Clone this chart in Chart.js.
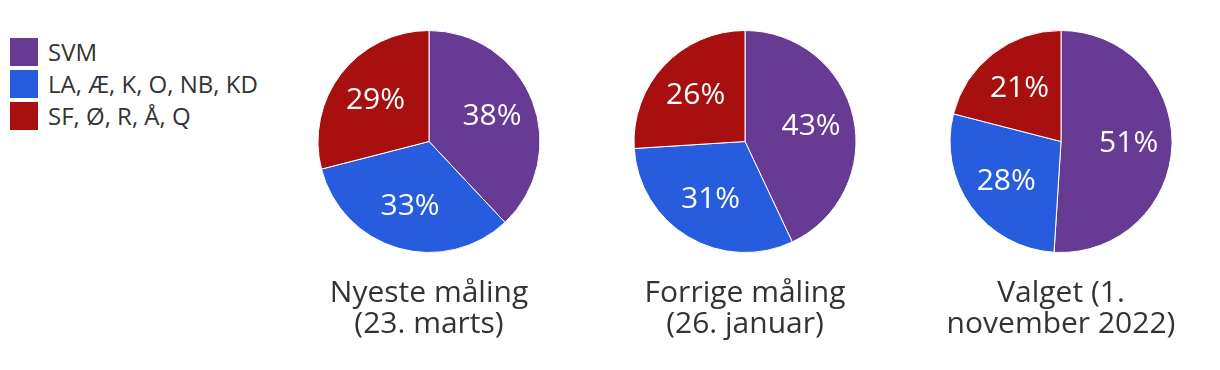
<!DOCTYPE html>
<html>
<head>
<meta charset="utf-8">
<script src="https://cdn.jsdelivr.net/npm/chart.js@4/dist/chart.umd.min.js"></script>
<style>
  body { margin: 0; background: #fff; width: 1220px; height: 370px; position: relative; overflow: hidden; font-family: "Open Sans", sans-serif; }
  .pie { position: absolute; top: 0; width: 316px; height: 370px; }
  #legend { position: absolute; left: 10px; top: 38px; }
  .item { display: flex; align-items: center; height: 28px; margin-bottom: 4px; font-size: 24px; line-height: 28px; color: #333; }
  .box { width: 28px; height: 28px; margin-right: 10px; flex: none; }
</style>
</head>
<body>
<div id="legend"></div>
<div class="pie" style="left:271px"><canvas id="pie1"></canvas></div>
<div class="pie" style="left:587px"><canvas id="pie2"></canvas></div>
<div class="pie" style="left:903px"><canvas id="pie3"></canvas></div>
<script>
// data
const groups = ["SVM", "LA, Æ, K, O, NB, KD", "SF, Ø, R, Å, Q"];
const colors = ["#673a93", "#285cde", "#a81010"];
const nyeste = [38, 33, 29];
const forrige = [43, 31, 26];
const valget = [51, 28, 21];
const titles = [
    ["Nyeste måling", "(23. marts)"],
    ["Forrige måling", "(26. januar)"],
    ["Valget (1.", "november 2022)"]
];

// legend
let legend = document.getElementById("legend");
groups.forEach((g, i) => {
    legend.innerHTML += `<div class="item"><div class="box" style="background:${colors[i]}"></div>${g}</div>`;
});

// procent inde i skiverne
const pctLabels = {
    id: "pctLabels",
    afterDatasetsDraw(chart) {
        let ctx = chart.ctx;
        let meta = chart.getDatasetMeta(0);
        let data = chart.data.datasets[0].data;
        ctx.save();
        ctx.fillStyle = "#fff";
        ctx.font = "30px 'Open Sans'";
        ctx.textAlign = "center";
        ctx.textBaseline = "middle";
        meta.data.forEach((arc, i) => {
            let p = arc.getProps(["x", "y", "startAngle", "endAngle", "outerRadius"], true);
            let mid = (p.startAngle + p.endAngle) / 2;
            let r = p.outerRadius * 0.61;
            ctx.fillText(data[i] + "%", p.x + Math.cos(mid) * r, p.y + Math.sin(mid) * r);
        });
        ctx.restore();
    }
};

function makePie(id, values, title) {
    new Chart(document.getElementById(id), {
        type: "pie",
        data: {
            labels: groups,
            datasets: [{
                data: values,
                backgroundColor: colors,
                borderColor: "#fff",
                borderWidth: 1
            }]
        },
        options: {
            responsive: false,
            animation: false,
            layout: { padding: { top: 30, bottom: 0 } },
            plugins: {
                legend: { display: false },
                tooltip: { enabled: false },
                title: {
                    display: true,
                    position: "bottom",
                    text: title,
                    color: "#333",
                    font: { family: "Open Sans", size: 30, weight: "normal", lineHeight: "31px" },
                    padding: { top: 25, bottom: 30 }
                }
            }
        },
        plugins: [pctLabels]
    });
}

document.querySelectorAll("canvas").forEach(c => { c.width = 316; c.height = 370; });
makePie("pie1", nyeste, titles[0]);
makePie("pie2", forrige, titles[1]);
makePie("pie3", valget, titles[2]);
</script>
</body>
</html>
